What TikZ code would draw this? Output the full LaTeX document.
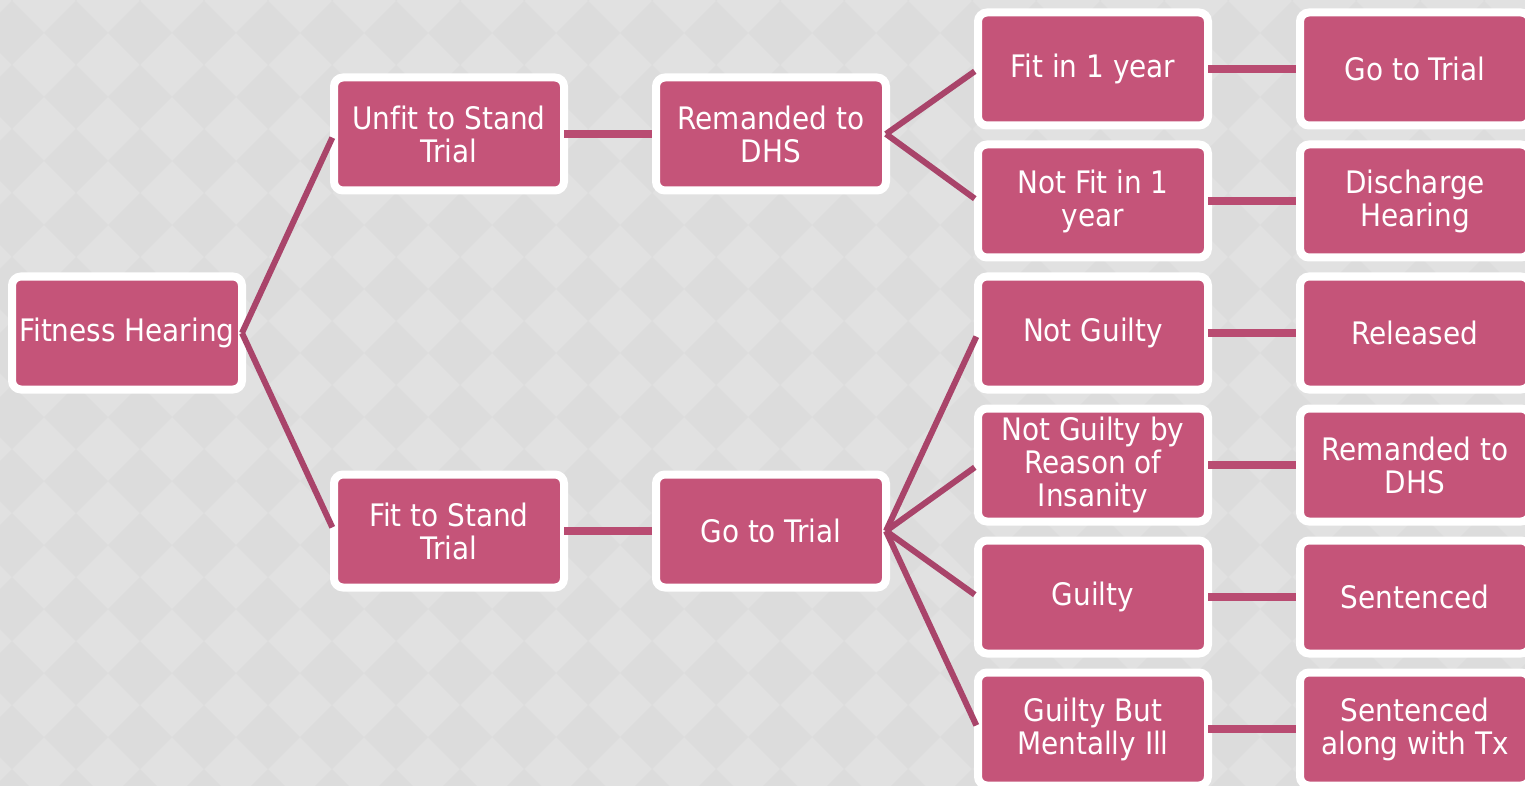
\documentclass[tikz,border=0pt]{standalone}
\usepackage{fontspec}
\setmainfont[Ligatures=NoCommon]{DejaVu Sans Condensed}
\usetikzlibrary{positioning}
\definecolor{boxpink}{HTML}{C55479}
\definecolor{linkpink}{HTML}{A9446A}
\definecolor{barpink}{HTML}{B94C72}
\definecolor{bglight}{HTML}{E1E1E1}
\definecolor{bgdark}{HTML}{DCDCDC}

\begin{document}
\begin{tikzpicture}[x=1pt,y=-1pt,align=center,
  box/.style={draw=white,line width=8pt,fill=boxpink,rounded corners=9pt,text=white,
    minimum width=230pt,minimum height=113pt,inner sep=0pt,outer sep=0pt,
    font=\fontsize{31}{33}\selectfont},
  link/.style={line width=6pt,draw=linkpink,shorten >=4pt},
  bar/.style={line width=8pt,draw=barpink,shorten >=4pt}]
  % background with diamonds
  \useasboundingbox (0,0) rectangle (1525,786);
  \clip (0,0) rectangle (1525,786);
  \fill[bglight] (0,0) rectangle (1525,786);
  \foreach \i in {-1,...,24}
    \foreach \j in {-1,...,12}
      \fill[bgdark,shift={({12+64*\i},{33+64*\j})}] (-32,0) -- (0,-32) -- (32,0) -- (0,32) -- cycle;

  \node (hearing)   [box] at (127,333)                {Fitness Hearing};
  \node (unfit)     [box] at (449,134)                {Unfit to Stand\\Trial};
  \node (remanded)  [box,right=92pt of unfit]         {Remanded to\\DHS};
  \node (fit)       [box] at (449,531)                {Fit to Stand\\Trial};
  \node (trial)     [box,right=92pt of fit]           {Go to Trial};

  \node (fityear)   [box] at (1093,69)                {Fit in 1 year};
  \node (notfit)    [box,below=19pt of fityear]       {Not Fit in 1\\year};
  \node (notguilty) [box,below=19pt of notfit]        {Not Guilty};
  \node (insanity)  [box,below=19pt of notguilty]     {Not Guilty by\\Reason of\\Insanity};
  \node (guilty)    [box,below=19pt of insanity]      {Guilty};
  \node (mentally)  [box,below=19pt of guilty]        {Guilty But\\Mentally Ill};

  \node (gotrial)   [box,right=92pt of fityear]       {Go to Trial};
  \node (discharge) [box,right=92pt of notfit]        {Discharge\\Hearing};
  \node (released)  [box,right=92pt of notguilty]     {Released};
  \node (dhs)       [box,right=92pt of insanity]      {Remanded to\\DHS};
  \node (sentenced) [box,right=92pt of guilty]        {Sentenced};
  \node (withtx)    [box,right=92pt of mentally]      {Sentenced\\along with Tx};

  \draw[link] (hearing.east) -- (unfit.west);
  \draw[link] (hearing.east) -- (fit.west);
  \draw[bar]  (unfit.east) -- (remanded.west);
  \draw[bar]  (fit.east) -- (trial.west);
  \draw[link] (remanded.east) -- (fityear.west);
  \draw[link] (remanded.east) -- (notfit.west);
  \foreach \to in {notguilty,insanity,guilty,mentally}
    \draw[link] (trial.east) -- (\to.west);
  \foreach \from/\to in {fityear/gotrial,notfit/discharge,notguilty/released,
                         insanity/dhs,guilty/sentenced,mentally/withtx}
    \draw[bar] (\from.east) -- (\to.west);
\end{tikzpicture}
\end{document}
